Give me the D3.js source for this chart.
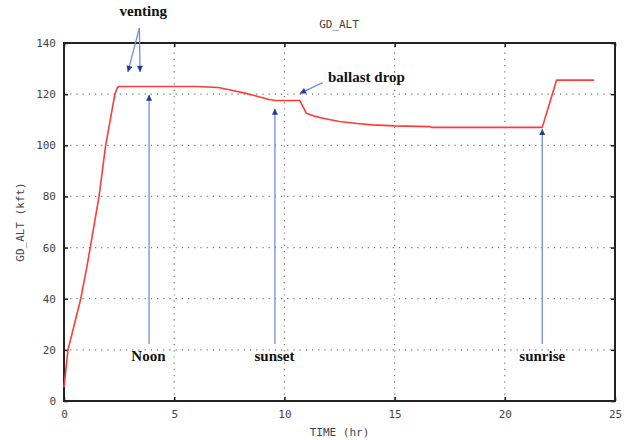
<!DOCTYPE html>
<html>
<head>
<meta charset="utf-8">
<script src="https://cdn.jsdelivr.net/npm/d3@7"></script>
<style>
  body { margin: 0; background: #fff; }
  .tick-label { font-family: "DejaVu Sans Mono", monospace; font-size: 11px; fill: #444; }
  .note { font-family: "Liberation Serif", "Times New Roman", serif; font-weight: bold; font-size: 15px; fill: #111; }
</style>
</head>
<body>
<div id="chart"></div>
<script>
// flight profile: time (hr) and altitude (kft)
var timeHr = [0, 0.18, 0.76, 1.05, 1.59, 1.89, 2.31, 2.42, 2.5,
              6.0, 7.0, 7.6, 8.2, 8.8, 9.3, 9.6, 10.7, 11.0, 11.4, 11.8, 12.5,
              13.3, 14.0, 15.0, 16.6, 16.7, 21.7, 22.35, 24.05];
var altKft = [5.3, 20, 40, 53, 80, 100, 120, 122.5, 123,
              123, 122.6, 121.5, 120.4, 119.1, 117.9, 117.5, 117.5, 112.5, 111.3, 110.5, 109.3,
              108.5, 108.0, 107.6, 107.3, 107.0, 107.0, 125.5, 125.5];

var xTicks = [0, 5, 10, 15, 20, 25];
var yTicks = [0, 20, 40, 60, 80, 100, 120, 140];

// annotations: arrows from (t0,a0) to (t1,a1), labels at (t,a)
var arrows = [
  { t0: 3.42, a0: 145.9, t1: 2.9,  a1: 128.7 },
  { t0: 3.42, a0: 145.9, t1: 3.45, a1: 128.7 },
  { t0: 3.86, a0: 22.3,  t1: 3.86, a1: 119.8 },
  { t0: 9.57, a0: 22.3,  t1: 9.57, a1: 114.3 },
  { t0: 21.7, a0: 22.3,  t1: 21.7, a1: 106.4 },
  { t0: 11.74, a0: 124.5, t1: 10.7, a1: 120.3 }
];
var notes = [
  { text: "venting",      t: 3.6,   a: 150.6, anchor: "middle" },
  { text: "ballast drop", t: 11.98, a: 124.6, anchor: "start" },
  { text: "Noon",         t: 3.83,  a: 15.5,  anchor: "middle" },
  { text: "sunset",       t: 9.55,  a: 15.5,  anchor: "middle" },
  { text: "sunrise",      t: 21.7,  a: 15.5,  anchor: "middle" }
];

var width = 627,
    height = 440;
var margin = { left: 64, right: 12, top: 43, bottom: 39 };

var svg = d3.select("#chart")
  .append("svg")
    .attr("width", width)
    .attr("height", height);

var x = d3.scaleLinear()
  .domain([0, 25])
  .range([margin.left, width - margin.right]);
var y = d3.scaleLinear()
  .domain([0, 140])
  .range([height - margin.bottom, margin.top]);

var x0 = x.range()[0], x1 = x.range()[1],
    y0 = y.range()[0], y1 = y.range()[1];

// dotted grid
svg.append("g")
  .selectAll("line")
  .data(xTicks.slice(1, -1))
  .enter()
    .append("line")
    .attr("x1", function(d) { return x(d); })
    .attr("x2", function(d) { return x(d); })
    .attr("y1", y0)
    .attr("y2", y1)
    .attr("stroke", "#777")
    .attr("stroke-width", 1.2)
    .attr("stroke-dasharray", "1.2,5");

svg.append("g")
  .selectAll("line")
  .data(yTicks.slice(1, -1))
  .enter()
    .append("line")
    .attr("x1", x0)
    .attr("x2", x1)
    .attr("y1", function(d) { return y(d); })
    .attr("y2", function(d) { return y(d); })
    .attr("stroke", "#777")
    .attr("stroke-width", 1.2)
    .attr("stroke-dasharray", "1.2,5");

// axes with inward ticks on all four sides
function styleAxis(g) {
  g.select(".domain").remove();
  g.selectAll(".tick line").attr("stroke", "#111").attr("stroke-width", 1.5);
  g.selectAll(".tick text").attr("class", "tick-label");
}

svg.append("g")
  .attr("transform", "translate(0," + y0 + ")")
  .call(d3.axisBottom(x).tickValues(xTicks).tickSize(-4).tickPadding(9))
  .call(styleAxis);
svg.append("g")
  .attr("transform", "translate(0," + y1 + ")")
  .call(d3.axisTop(x).tickValues(xTicks).tickSize(-4).tickFormat(""))
  .call(styleAxis);
svg.append("g")
  .attr("transform", "translate(" + x0 + ",0)")
  .call(d3.axisLeft(y).tickValues(yTicks).tickSize(-4).tickPadding(8))
  .call(styleAxis);
svg.append("g")
  .attr("transform", "translate(" + x1 + ",0)")
  .call(d3.axisRight(y).tickValues(yTicks).tickSize(-4).tickFormat(""))
  .call(styleAxis);

svg.append("rect")
  .attr("x", x0)
  .attr("y", y1)
  .attr("width", x1 - x0)
  .attr("height", y0 - y1)
  .attr("fill", "none")
  .attr("stroke", "#222")
  .attr("stroke-width", 2);

// titles
svg.append("text")
  .attr("class", "tick-label")
  .attr("x", 339)
  .attr("y", 28)
  .attr("text-anchor", "middle")
  .text("GD_ALT");
svg.append("text")
  .attr("class", "tick-label")
  .attr("x", (x0 + x1) / 2)
  .attr("y", 436)
  .attr("text-anchor", "middle")
  .text("TIME (hr)");
svg.append("text")
  .attr("class", "tick-label")
  .attr("transform", "translate(24," + (y0 + y1) / 2 + ") rotate(-90)")
  .attr("text-anchor", "middle")
  .text("GD_ALT (kft)");

// altitude line
var profile = timeHr.map(function(t, i) { return [t, altKft[i]]; });
svg.append("path")
  .datum(profile)
  .attr("fill", "none")
  .attr("stroke", "#ff3a3a")
  .attr("stroke-width", 1.6)
  .attr("stroke-linejoin", "round")
  .attr("d", d3.line()
    .x(function(d) { return x(d[0]); })
    .y(function(d) { return y(d[1]); }));

// annotation arrows
svg.append("defs")
  .append("marker")
    .attr("id", "head")
    .attr("viewBox", "0 0 10 10")
    .attr("refX", 10)
    .attr("refY", 5)
    .attr("markerWidth", 7)
    .attr("markerHeight", 6)
    .attr("markerUnits", "userSpaceOnUse")
    .attr("orient", "auto")
  .append("path")
    .attr("d", "M0,0L10,5L0,10z")
    .attr("fill", "#1f3d96");

svg.append("g")
  .selectAll("line")
  .data(arrows)
  .enter()
    .append("line")
    .attr("x1", function(d) { return x(d.t0); })
    .attr("y1", function(d) { return y(d.a0); })
    .attr("x2", function(d) { return x(d.t1); })
    .attr("y2", function(d) { return y(d.a1); })
    .attr("stroke", "#6f8fd6")
    .attr("stroke-width", 1.3)
    .attr("marker-end", "url(#head)");

svg.append("g")
  .selectAll("text")
  .data(notes)
  .enter()
    .append("text")
    .attr("class", "note")
    .attr("x", function(d) { return x(d.t); })
    .attr("y", function(d) { return y(d.a); })
    .attr("text-anchor", function(d) { return d.anchor; })
    .text(function(d) { return d.text; });
</script>
</body>
</html>
